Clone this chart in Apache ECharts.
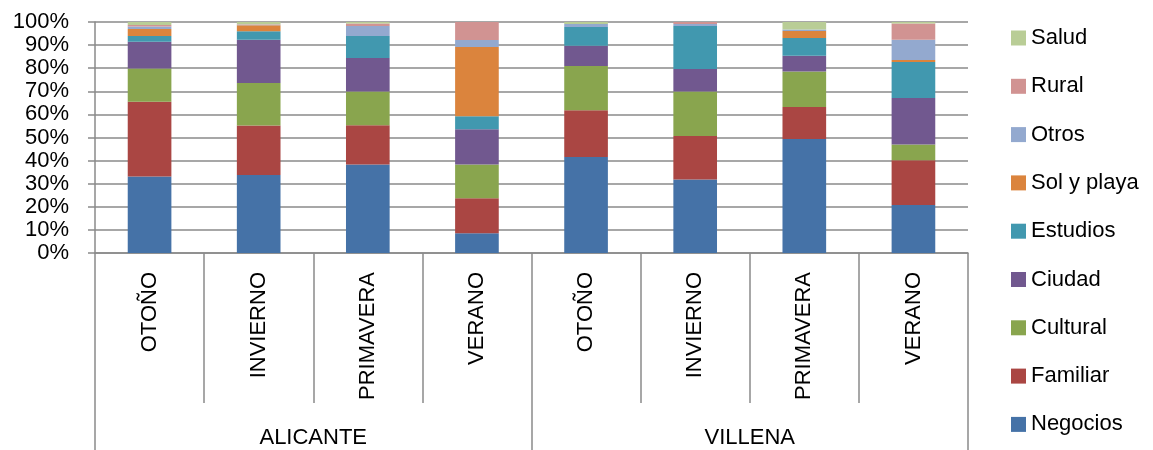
<!DOCTYPE html>
<html>
<head>
<meta charset="utf-8">
<script src="https://cdn.jsdelivr.net/npm/echarts@6/dist/echarts.min.js"></script>
<style>
  html, body { margin: 0; padding: 0; background: #ffffff; }
  #chart { width: 1153px; height: 450px; }
</style>
</head>
<body>
<div id="chart"></div>
<script>
// Seasons per town (lower axis level) and towns (upper axis level)
const seasons = ['OTOÑO', 'INVIERNO', 'PRIMAVERA', 'VERANO', 'OTOÑO', 'INVIERNO', 'PRIMAVERA', 'VERANO'];
const towns = ['ALICANTE', 'VILLENA'];

// Share of each trip motive, in percent, per season column
const negocios   = [33.1, 33.8, 38.3,  8.5, 41.6, 31.8, 49.3, 20.8];
const familiar   = [32.4, 21.4, 17.0, 15.2, 20.2, 18.8, 13.9, 19.4];
const cultural   = [14.4, 18.4, 14.6, 14.6, 19.1, 19.3, 15.4,  6.8];
const ciudad     = [11.6, 18.7, 14.5, 15.3,  8.8,  9.7,  6.8, 20.1];
const estudios   = [ 2.4,  3.7,  9.5,  5.6,  8.1, 18.7,  7.7, 15.6];
const solYPlaya  = [ 3.1,  2.6,  0.0, 30.0,  0.0,  0.0,  3.0,  0.8];
const otros      = [ 1.0,  0.2,  4.4,  3.0,  1.3,  0.8,  0.7,  8.8];
const rural      = [ 0.7,  0.2,  1.0,  7.8,  0.0,  0.9,  0.0,  7.0];
const salud      = [ 1.3,  1.0,  0.7,  0.0,  0.9,  0.0,  3.2,  0.7];

const yTicks = [0, 10, 20, 30, 40, 50, 60, 70, 80, 90, 100];

const seriesDefs = [
  { name: 'Negocios',    data: negocios,  color: '#4572A7' },
  { name: 'Familiar',    data: familiar,  color: '#AA4643' },
  { name: 'Cultural',    data: cultural,  color: '#89A54E' },
  { name: 'Ciudad',      data: ciudad,    color: '#71588F' },
  { name: 'Estudios',    data: estudios,  color: '#4198AF' },
  { name: 'Sol y playa', data: solYPlaya, color: '#DB843D' },
  { name: 'Otros',       data: otros,     color: '#93A9CF' },
  { name: 'Rural',       data: rural,     color: '#D19392' },
  { name: 'Salud',       data: salud,     color: '#B9CD96' }
];

const FONT = 'Liberation Sans, Arial, sans-serif';
const GRAY = '#8a8a8a';

const chart = echarts.init(document.getElementById('chart'), null, { renderer: 'canvas' });

chart.setOption({
  animation: false,
  backgroundColor: '#ffffff',
  grid: { left: 95, right: 185, top: 22, bottom: 197, containLabel: false },
  legend: {
    orient: 'vertical',
    left: 1006,
    top: 22,
    itemWidth: 15,
    itemHeight: 15,
    itemGap: 26.3,
    icon: 'rect',
    data: seriesDefs.map(s => s.name).reverse(),
    textStyle: { fontFamily: FONT, fontSize: 22, color: '#000', lineHeight: 22 }
  },
  xAxis: [
    {
      type: 'category',
      data: seasons,
      position: 'bottom',
      axisLine: { show: true, lineStyle: { color: GRAY, width: 1.5 } },
      axisTick: { show: true, interval: 0, length: 150, lineStyle: { color: GRAY, width: 1.5 } },
      axisLabel: {
        interval: 0,
        rotate: 90,
        margin: 19,
        fontFamily: FONT,
        fontSize: 22,
        color: '#000'
      },
      splitLine: { show: false }
    },
    {
      type: 'category',
      data: towns,
      position: 'bottom',
      axisLine: { show: false },
      axisTick: { show: true, interval: 0, length: 197, lineStyle: { color: GRAY, width: 1.5 } },
      axisLabel: {
        interval: 0,
        margin: 174,
        fontFamily: FONT,
        fontSize: 22,
        color: '#000'
      },
      splitLine: { show: false }
    }
  ],
  yAxis: {
    type: 'value',
    min: yTicks[0],
    max: yTicks[yTicks.length - 1],
    interval: 10,
    axisLine: { show: true, lineStyle: { color: GRAY, width: 1.5 } },
    axisTick: { show: true, length: 7, lineStyle: { color: GRAY, width: 1.5 } },
    axisLabel: {
      margin: 26,
      formatter: '{value}%',
      fontFamily: FONT,
      fontSize: 22,
      color: '#000'
    },
    splitLine: { show: true, lineStyle: { color: GRAY, width: 1.5 } }
  },
  series: seriesDefs.map(s => ({
    name: s.name,
    type: 'bar',
    stack: 'total',
    xAxisIndex: 0,
    barWidth: '40%',
    data: s.data,
    itemStyle: { color: s.color },
    emphasis: { disabled: true }
  }))
});
</script>
</body>
</html>
